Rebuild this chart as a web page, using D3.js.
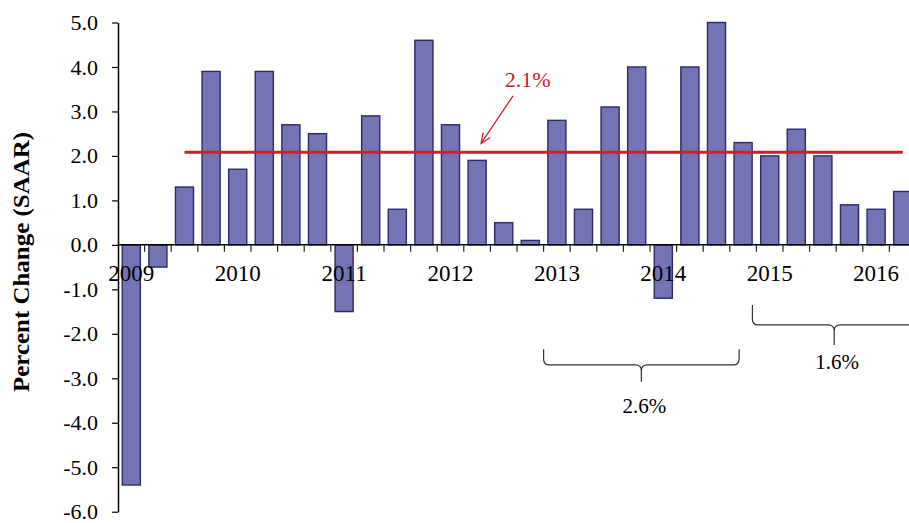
<!DOCTYPE html>
<html>
<head>
<meta charset="utf-8">
<script src="https://cdn.jsdelivr.net/npm/d3@7"></script>
<style>
  html, body { margin: 0; padding: 0; background: #fff; }
  svg { display: block; }
</style>
</head>
<body>
<svg id="chart" width="909" height="523" font-family="Liberation Serif"></svg>
<script>
// ---------------- DATA ----------------
const quarters = [
  "2009Q1","2009Q2","2009Q3","2009Q4",
  "2010Q1","2010Q2","2010Q3","2010Q4",
  "2011Q1","2011Q2","2011Q3","2011Q4",
  "2012Q1","2012Q2","2012Q3","2012Q4",
  "2013Q1","2013Q2","2013Q3","2013Q4",
  "2014Q1","2014Q2","2014Q3","2014Q4",
  "2015Q1","2015Q2","2015Q3","2015Q4",
  "2016Q1","2016Q2"
];
const growth = [
  -5.4, -0.5, 1.3, 3.9,
  1.7, 3.9, 2.7, 2.5,
  -1.5, 2.9, 0.8, 4.6,
  2.7, 1.9, 0.5, 0.1,
  2.8, 0.8, 3.1, 4.0,
  -1.2, 4.0, 5.0, 2.3,
  2.0, 2.6, 2.0, 0.9,
  0.8, 1.2
];
const yearLabels = ["2009","2010","2011","2012","2013","2014","2015","2016"];
const yTicks = [-6, -5, -4, -3, -2, -1, 0, 1, 2, 3, 4, 5];
const averageValue = 2.08;
const averageLabel = "2.1%";
const averageFrom = "2009Q3";
const averageTo = "2016Q2";
const periodLabels = ["2.6%", "1.6%"];
const yAxisTitle = "Percent Change (SAAR)";

// ---------------- LAYOUT ----------------
const FONT = "Liberation Serif";
const svg = d3.select("#chart");
const plotLeft = 118, plotRight = 916, plotTop = 22.5, plotBottom = 511.7;

const x = d3.scaleBand().domain(quarters).range([plotLeft, plotRight])
  .paddingInner(0.32).paddingOuter(0.16);
const qx = d3.scaleLinear().domain([0, quarters.length]).range([plotLeft, plotRight]);
const y = d3.scaleLinear().domain([-6, 5]).range([plotBottom, plotTop]);

// bars
svg.append("g").selectAll("rect").data(quarters).join("rect")
  .attr("x", d => x(d))
  .attr("width", x.bandwidth())
  .attr("y", (d, i) => y(Math.max(0, growth[i])))
  .attr("height", (d, i) => Math.abs(y(growth[i]) - y(0)))
  .attr("fill", "#7474b4")
  .attr("stroke", "#2a2a68")
  .attr("stroke-width", 1.4);

// y axis
const yAxis = d3.axisLeft(y).tickValues(yTicks).tickSize(6).tickSizeOuter(0)
  .tickFormat(d3.format(".1f"));
const gy = svg.append("g").attr("transform", `translate(${plotLeft},0)`).call(yAxis)
  .attr("font-family", FONT).attr("font-size", 22);
gy.select(".domain").attr("stroke", "#000").attr("stroke-width", 1.5);
gy.selectAll(".tick line").attr("stroke", "#000").attr("stroke-width", 1.2);
gy.selectAll(".tick text")
  .attr("x", -20)
  .attr("font-family", FONT)
  .attr("font-size", 22)
  .attr("fill", "#000")
  .text(d => d3.format(".1f")(d).replace("−", "-"));

// x axis at zero: line + boundary ticks
const boundaries = d3.range(1, quarters.length + 1).map(i => qx(i));
const gx = svg.append("g");
gx.append("line")
  .attr("x1", plotLeft).attr("x2", 909)
  .attr("y1", y(0)).attr("y2", y(0))
  .attr("stroke", "#000").attr("stroke-width", 1.5);
gx.selectAll("line.tk").data(boundaries).join("line")
  .attr("class", "tk")
  .attr("x1", d => d).attr("x2", d => d)
  .attr("y1", y(0)).attr("y2", y(0) + 7)
  .attr("stroke", "#222").attr("stroke-width", 1.2);

// year labels (centered on Q1 of each year)
gx.selectAll("text.yr").data(yearLabels).join("text")
  .attr("class", "yr")
  .attr("x", d => x(d + "Q1") + x.bandwidth() / 2)
  .attr("y", y(0) + 36)
  .attr("text-anchor", "middle")
  .attr("font-family", FONT)
  .attr("font-size", 23)
  .attr("fill", "#000")
  .text(d => d);

// y axis title
svg.append("text")
  .attr("transform", `translate(29,262) rotate(-90)`)
  .attr("text-anchor", "middle")
  .attr("font-family", FONT)
  .attr("font-weight", "bold")
  .attr("font-size", 23.5)
  .attr("textLength", 260)
  .attr("lengthAdjust", "spacingAndGlyphs")
  .attr("fill", "#000")
  .text(yAxisTitle);

// average line
const red = "#c8202c";
svg.append("line")
  .attr("x1", x(averageFrom) + x.bandwidth() / 2)
  .attr("x2", x(averageTo) + x.bandwidth() / 2)
  .attr("y1", y(averageValue)).attr("y2", y(averageValue))
  .attr("stroke", red).attr("stroke-width", 3);

// arrow annotation
const ax1 = qx(14.85), ay1 = y(3.35), ax2 = qx(13.65), ay2 = y(2.28);
svg.append("line")
  .attr("x1", ax1).attr("y1", ay1).attr("x2", ax2).attr("y2", ay2)
  .attr("stroke", red).attr("stroke-width", 1.3);
const ang = Math.atan2(ay2 - ay1, ax2 - ax1);
const hl = 11, ha = 0.4;
svg.append("path")
  .attr("d", `M${ax2 - hl * Math.cos(ang - ha)},${ay2 - hl * Math.sin(ang - ha)} L${ax2},${ay2} L${ax2 - hl * Math.cos(ang + ha)},${ay2 - hl * Math.sin(ang + ha)}`)
  .attr("fill", "none").attr("stroke", red).attr("stroke-width", 1.3);
svg.append("text")
  .attr("x", qx(15.4)).attr("y", y(3.55))
  .attr("text-anchor", "middle")
  .attr("font-family", FONT)
  .attr("font-size", 22)
  .attr("fill", red)
  .text(averageLabel);

// period braces
function brace(x1, x2, y0, yh, yt) {
  const cx = (x1 + x2) / 2, r = 6;
  return `M${x1},${y0} L${x1},${yh - r} Q${x1},${yh} ${x1 + r},${yh} L${cx - r},${yh} Q${cx},${yh} ${cx},${yh + r} L${cx},${yt} ` +
         `M${cx},${yh + r} Q${cx},${yh} ${cx + r},${yh} L${x2 - r},${yh} Q${x2},${yh} ${x2},${yh - r} L${x2},${y0}`;
}
const braces = [
  { from: 16.0, to: 23.35, top: -2.35, mid: -2.7, tip: -3.08, lab: -3.77 },
  { from: 23.85, to: 30.0, top: -1.35, mid: -1.8, tip: -2.25, lab: -2.8 }
];
braces.forEach((b, i) => {
  svg.append("path")
    .attr("d", brace(qx(b.from), qx(b.to), y(b.top), y(b.mid), y(b.tip)))
    .attr("fill", "none").attr("stroke", "#333").attr("stroke-width", 1.2);
  svg.append("text")
    .attr("x", (qx(b.from) + qx(b.to)) / 2 + 3)
    .attr("y", y(b.lab))
    .attr("text-anchor", "middle")
    .attr("font-family", FONT)
    .attr("font-size", 21)
    .attr("fill", "#000")
    .text(periodLabels[i]);
});
</script>
</body>
</html>
